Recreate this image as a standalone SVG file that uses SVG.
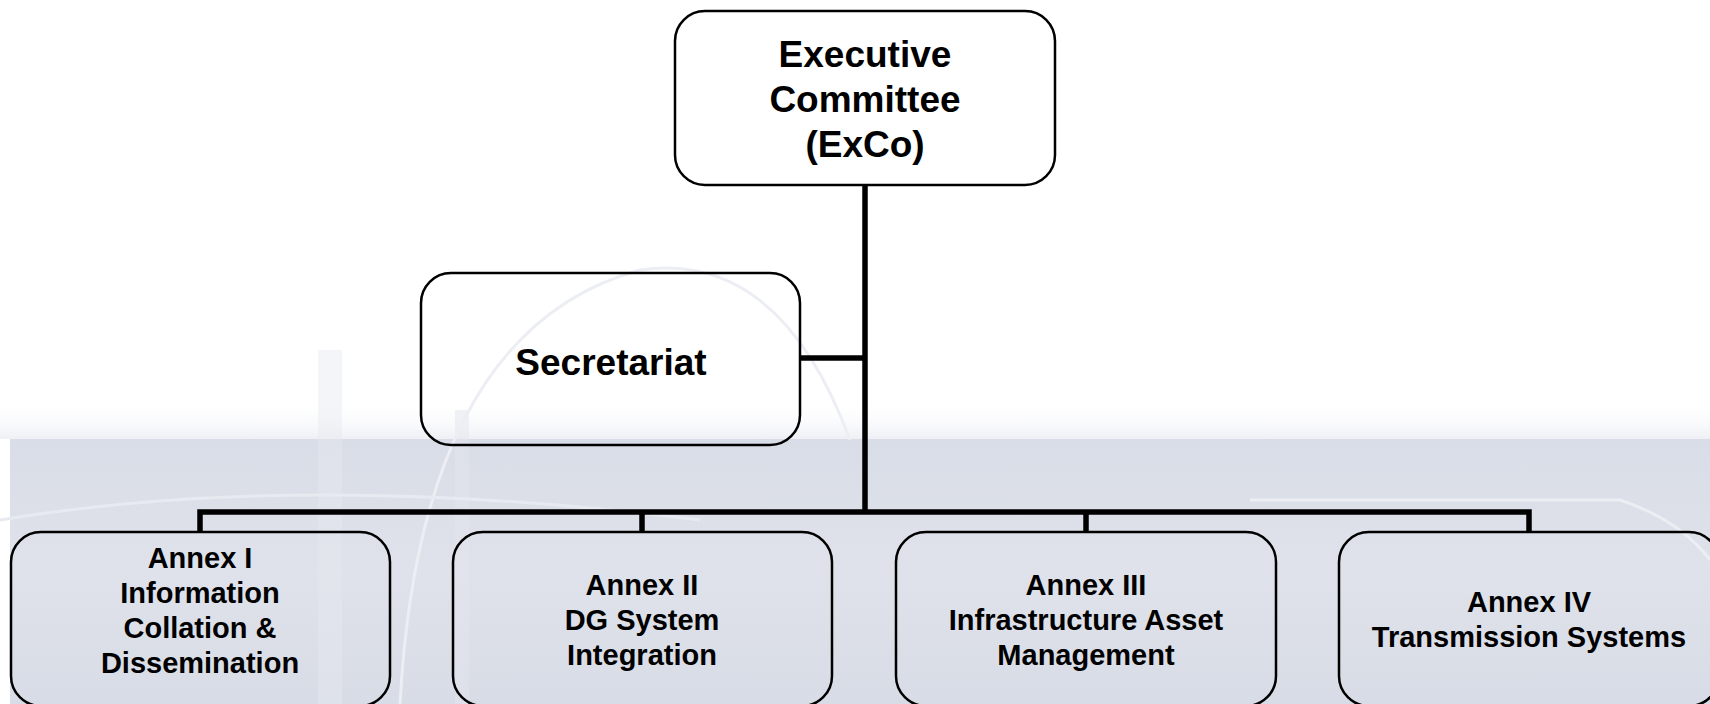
<svg xmlns="http://www.w3.org/2000/svg" width="1710" height="704" viewBox="0 0 1710 704">
<defs>
<style>
.box{fill:none;stroke:#000;stroke-width:2.5}
.wbox{fill:#fff;stroke:#000;stroke-width:2.5}
.big{font-family:"Liberation Sans",Arial,sans-serif;font-weight:bold;font-size:37px;fill:#000;text-anchor:middle}
.sm{font-family:"Liberation Sans",Arial,sans-serif;font-weight:bold;font-size:29px;fill:#000;text-anchor:middle}
.conn{fill:none;stroke:#000;stroke-width:5.5;stroke-linejoin:miter;stroke-linecap:butt}
</style>
<linearGradient id="bg" x1="0" y1="0" x2="0" y2="1">
<stop offset="0" stop-color="#d9dde7"/>
<stop offset="0.5" stop-color="#dfe2ea"/>
<stop offset="1" stop-color="#d8dce6"/>
</linearGradient>
<linearGradient id="haze" x1="0" y1="0" x2="0" y2="1">
<stop offset="0" stop-color="#ffffff" stop-opacity="0"/>
<stop offset="1" stop-color="#eef0f5"/>
</linearGradient>
</defs>
<g id="background">
<rect x="0" y="0" width="1710" height="704" fill="#ffffff"/>
<rect x="0" y="400" width="1710" height="39" fill="url(#haze)"/>
<rect x="10" y="439" width="1700" height="265" fill="url(#bg)"/>
<rect x="318" y="350" width="24" height="354" fill="#e6e9f0" opacity="0.45"/>
<rect x="455" y="410" width="14" height="294" fill="#e3e6ee" opacity="0.5"/>
<path d="M400 704 Q420 330 640 270 Q780 250 850 440" fill="none" stroke="#eceef4" stroke-width="3"/>
<path d="M0 520 Q300 470 700 520" fill="none" stroke="#e8eaf1" stroke-width="3"/>
<path d="M1250 500 L1620 500 Q1680 520 1710 560" fill="none" stroke="#eceef4" stroke-width="3"/>
</g>
<g id="connectors">
<path class="conn" d="M865 185 V512"/>
<path class="conn" d="M800 358 H865"/>
<path class="conn" d="M200 532 V512 H1529 V532"/>
<path class="conn" d="M642 512 V532"/>
<path class="conn" d="M1086 512 V532"/>
</g>
<g id="exco">
<rect class="wbox" x="675" y="11" width="380" height="174" rx="30" ry="30"/>
<text class="big" x="865" y="67">Executive</text>
<text class="big" x="865" y="112">Committee</text>
<text class="big" x="865" y="157">(ExCo)</text>
</g>
<g id="secretariat">
<rect class="box" x="421" y="273" width="379" height="172" rx="30" ry="30"/>
<text class="big" x="611" y="375">Secretariat</text>
</g>
<g id="annex1">
<rect class="box" x="11" y="532" width="379" height="174" rx="30" ry="30"/>
<text class="sm" x="200" y="568">Annex I</text>
<text class="sm" x="200" y="603">Information</text>
<text class="sm" x="200" y="638">Collation &amp;</text>
<text class="sm" x="200" y="673">Dissemination</text>
</g>
<g id="annex2">
<rect class="box" x="453" y="532" width="379" height="174" rx="30" ry="30"/>
<text class="sm" x="642" y="595">Annex II</text>
<text class="sm" x="642" y="630">DG System</text>
<text class="sm" x="642" y="665">Integration</text>
</g>
<g id="annex3">
<rect class="box" x="896" y="532" width="380" height="174" rx="30" ry="30"/>
<text class="sm" x="1086" y="595">Annex III</text>
<text class="sm" x="1086" y="630">Infrastructure Asset</text>
<text class="sm" x="1086" y="665">Management</text>
</g>
<g id="annex4">
<rect class="box" x="1339" y="532" width="380" height="174" rx="30" ry="30"/>
<text class="sm" x="1529" y="612">Annex IV</text>
<text class="sm" x="1529" y="647">Transmission Systems</text>
</g>
</svg>
